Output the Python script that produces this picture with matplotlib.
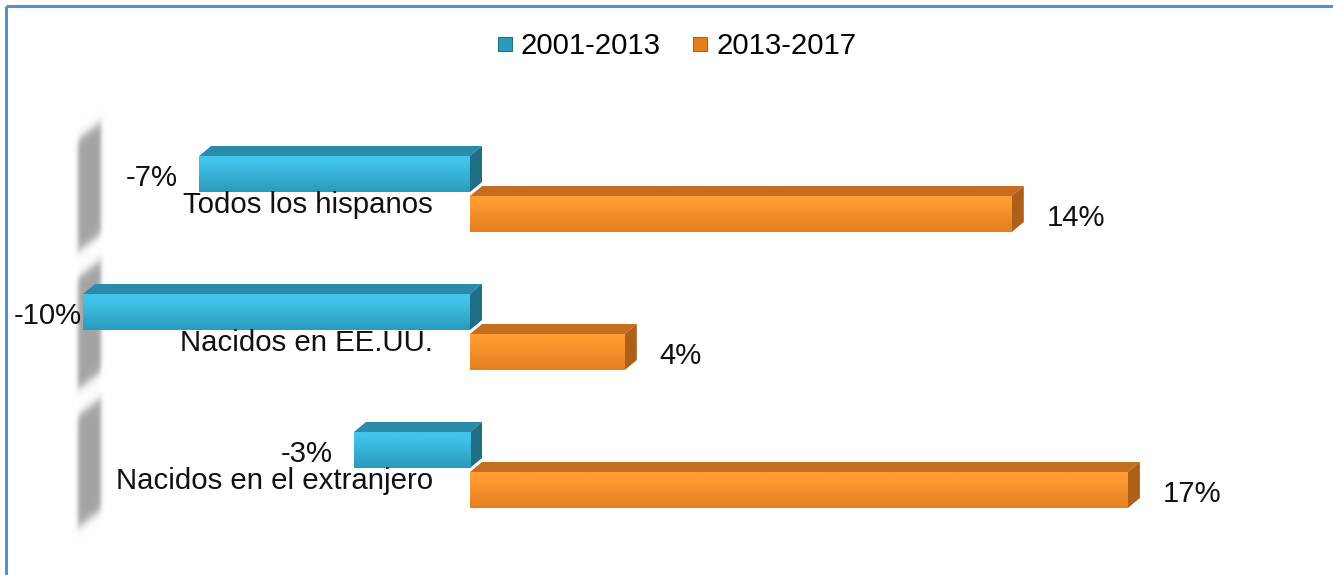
import numpy as np
import matplotlib
matplotlib.use("Agg")
import matplotlib.pyplot as plt
from matplotlib.patches import Polygon, Rectangle
from matplotlib.lines import Line2D
from matplotlib.colors import to_rgb

# ---------------- data ----------------
categories = ["Todos los hispanos", "Nacidos en EE.UU.", "Nacidos en el extranjero"]
series_names = ["2001-2013", "2013-2017"]
change_2001_2013 = [-7, -10, -3]
change_2013_2017 = [14, 4, 17]

# ---------------- style ----------------
FONT = "Liberation Sans"
FS = 21.2
W, H = 1333, 575
PX_PER_PCT = 38.7
ZERO_PX = 470
ROW_PX = 138
FIRST_PX = 194

styles = [
    dict(top="#2A8CA9", side="#1F6E86", grad=("#41C4EA", "#2A9BBC")),
    dict(top="#C66E1F", side="#AE5F18", grad=("#FF9C33", "#E37F1E")),
]

fig = plt.figure(figsize=(W / 100, H / 100), dpi=100)
fig.patch.set_facecolor("white")

# background decoration axes in pixel units
bg = fig.add_axes([0, 0, 1, 1], zorder=0)
bg.set_xlim(0, W)
bg.set_ylim(H, 0)
bg.axis("off")

ax = fig.add_axes([0, 0, 1, 1], zorder=1)
ax.patch.set_visible(False)
ax.axis("off")
XLIM = (-ZERO_PX / PX_PER_PCT, (W - ZERO_PX) / PX_PER_PCT)
YLIM = ((H - FIRST_PX) / ROW_PX, -FIRST_PX / ROW_PX)

dxp = 1 / PX_PER_PCT  # data per pixel (x)
dyp = 1 / ROW_PX      # data per pixel (y)
DEPTH_X = 12 * dxp
DEPTH_Y = 10 * dyp
BAR_H = 36 * dyp
GAP = 2 * dyp

# border lines
bg.plot([6, W], [6, 6], color="#5B8BD0", lw=2.2, solid_capstyle="butt")
bg.plot([6, 6], [6, H], color="#5B8BD0", lw=2.2, solid_capstyle="butt")

# gray blurred wall shadows at left
positions = np.arange(len(categories))
s = lambda u, sg: 0.5 * (1 + np.tanh(u / sg))
for c in positions:
    cpx = FIRST_PX + c * ROW_PX
    t, b = cpx - 72, cpx + 40
    xs = np.arange(60, 120)
    ys = np.arange(int(t) - 25, int(b) + 45)
    X, Y = np.meshgrid(xs + 0.5, ys + 0.5)
    Yp = Y - 18 * (101 - X) / 24
    a = s(X - 78, 2.5) * s(101 - X, 2.5) * s(Yp - t, 6.0) * s(b - Yp, 6.0)
    img = np.zeros(a.shape + (4,))
    img[..., :3] = 0.62
    img[..., 3] = a * 0.95
    bg.imshow(img, extent=(xs[0], xs[-1] + 1, ys[-1] + 1, ys[0]), origin="upper",
              aspect="auto", interpolation="bilinear", zorder=1)
bg.set_xlim(0, W)
bg.set_ylim(H, 0)


def draw_bar(y_top, value, st, z):
    x0, x1 = min(0, value), max(0, value)
    y0, y1 = y_top, y_top + BAR_H
    top = Polygon([(x0, y0), (x1, y0), (x1 + DEPTH_X, y0 - DEPTH_Y), (x0 + DEPTH_X, y0 - DEPTH_Y)],
                  closed=True, facecolor=st["top"], edgecolor="none", zorder=z)
    side = Polygon([(x1, y0), (x1 + DEPTH_X, y0 - DEPTH_Y), (x1 + DEPTH_X, y1 - DEPTH_Y), (x1, y1)],
                   closed=True, facecolor=st["side"], edgecolor="none", zorder=z)
    ax.add_patch(top)
    ax.add_patch(side)
    c0, c1 = np.array(to_rgb(st["grad"][0])), np.array(to_rgb(st["grad"][1]))
    tt = np.linspace(0, 1, 64)[:, None]
    tt = np.where(tt < 0.15, 0.0, (tt - 0.15) / 0.85)
    grad = (c0[None, :] * (1 - tt) + c1[None, :] * tt)[:, None, :]
    front = Rectangle((x0, y0), x1 - x0, y1 - y0, facecolor="none", edgecolor="none", zorder=z)
    ax.add_patch(front)
    im = ax.imshow(grad, extent=(x0, x1, y1, y0), origin="upper", aspect="auto",
                   interpolation="bilinear", zorder=z + 0.1)
    im.set_clip_path(front)


PT = 0.72  # points per pixel at dpi 100
fig.canvas.draw()
renderer = fig.canvas.get_renderer()

for i, c in enumerate(positions):
    draw_bar(c - GAP - BAR_H, change_2001_2013[i], styles[0], 2 + i * 2)
    draw_bar(c + GAP, change_2013_2017[i], styles[1], 3 + i * 2)

ax.set_xlim(*XLIM)
ax.set_ylim(*YLIM)

TXT = "#111111"
for i, c in enumerate(positions):
    v1 = change_2001_2013[i]
    ycen = c - GAP - BAR_H / 2
    t = ax.annotate(f"{v1}%", xy=(v1, ycen), xytext=(-21 * PT, -12 * PT), textcoords="offset points",
                    ha="right", va="baseline", fontsize=FS, family=FONT, color=TXT, zorder=20)
    bb = t.get_window_extent(renderer)
    if bb.x0 < 14:
        t.xyann = (-21 * PT + (14 - bb.x0) * PT, -12 * PT)
    v2 = change_2013_2017[i]
    ycen2 = c + GAP + BAR_H / 2
    ax.annotate(f"{v2}%", xy=(v2, ycen2), xytext=(35 * PT, -12 * PT), textcoords="offset points",
                ha="left", va="baseline", fontsize=FS, family=FONT, color=TXT, zorder=20)
    ax.annotate(categories[i], xy=(0, c), xytext=(-37 * PT, -19 * PT), textcoords="offset points",
                ha="right", va="baseline", fontsize=FS, family=FONT, color=TXT, zorder=20)

handles = [Line2D([], [], marker="s", linestyle="none", markersize=10.5,
                  markerfacecolor=styles[k]["grad"][1], markeredgecolor=styles[k]["side"], markeredgewidth=0.8)
           for k in range(2)]
fig.legend(handles, series_names, loc="center", bbox_to_anchor=(677 / W, 1 - 46 / H), ncol=2,
           frameon=False, prop=dict(family=FONT, size=FS), handlelength=0.5, handletextpad=0.3,
           columnspacing=1.1, borderpad=0)

fig.savefig("out.png", dpi=100, facecolor="white")
